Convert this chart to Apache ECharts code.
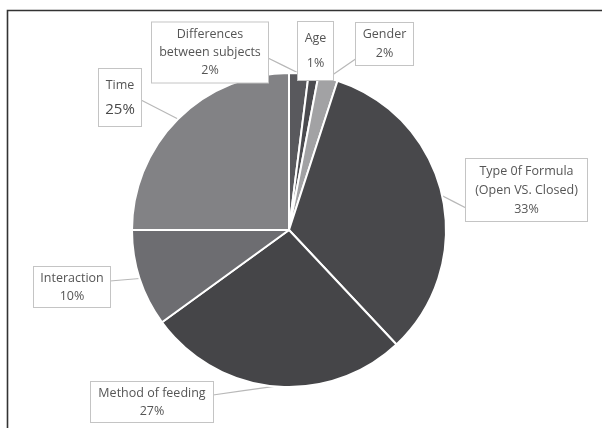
<!DOCTYPE html>
<html>
<head>
<meta charset="utf-8">
<script src="https://cdn.jsdelivr.net/npm/echarts@6/dist/echarts.min.js"></script>
<style>
  html, body { margin: 0; padding: 0; background: #fff; }
  #chart { width: 602px; height: 428px; }
</style>
</head>
<body>
<div id="chart"></div>
<script>
// Factors share (percent), clockwise from 12 o'clock
const categories = [
  'Differences\nbetween subjects',
  'Age',
  'Gender',
  'Type 0f Formula\n(Open VS. Closed)',
  'Method of feeding',
  'Interaction',
  'Time'
];
const values = [2, 1, 2, 33, 27, 10, 25];
const sliceColors = ['#59595d', '#4b4b4f', '#a2a2a4', '#48484b', '#454548', '#6d6d71', '#828285'];

// Callout boxes: centre (cx, cy), content width, vertical padding, line height, leader end
const callouts = [
  { cx: 210, cy: 52.5, w: 116, pad: [3, 0], lh: 18, end: [268, 58] },
  { cx: 315.5, cy: 51, w: 35, pad: [4, 0], lh: 25, end: null },
  { cx: 384.5, cy: 44, w: 57, pad: [2, 0], lh: 19, end: [357, 58] },
  { cx: 526.5, cy: 190, w: 121, pad: [2.5, 0], lh: 19, end: [466, 208] },
  { cx: 152, cy: 402, w: 122, pad: [2, 0], lh: 18, end: [213, 395] },
  { cx: 72, cy: 287, w: 76, pad: [2, 0], lh: 18, end: [110, 281] },
  { cx: 120, cy: 97.5, w: 42, pad: [3.5, 0], lh: 25, end: [141, 100] }
];

const textColor = '#555555';
const fontFamily = '"Open Sans", "Liberation Sans", sans-serif';
const fontSize = 12.5;

const pieData = categories.map((name, i) => ({
  name: name,
  value: values[i],
  itemStyle: { color: sliceColors[i] },
  label: {
    width: callouts[i].w,
    padding: callouts[i].pad,
    lineHeight: callouts[i].lh,
    formatter: i === 6 ? '{n|{b}}\n{p|{d}%}' : '{b}\n{d}%',
    rich: {
      n: { fontSize: fontSize, color: textColor, fontFamily: fontFamily, lineHeight: 25 },
      p: { fontSize: 15, color: '#4a4a4a', fontFamily: fontFamily, lineHeight: 25 }
    }
  }
}));

const chart = echarts.init(document.getElementById('chart'), null, { renderer: 'canvas' });

chart.setOption({
  animation: false,
  backgroundColor: '#fff',
  graphic: [{
    type: 'polyline',
    shape: { points: [[7.5, 428], [7.5, 10.5], [602, 10.5]] },
    style: { stroke: '#333', lineWidth: 1.6, fill: null }
  }],
  series: [{
    type: 'pie',
    center: [289, 230],
    radius: 157,
    startAngle: 90,
    clockwise: true,
    avoidLabelOverlap: false,
    data: pieData,
    itemStyle: { borderColor: '#ffffff', borderWidth: 2 },
    label: {
      show: true,
      position: 'outside',
      align: 'center',
      color: textColor,
      fontSize: fontSize,
      fontFamily: fontFamily,
      backgroundColor: '#ffffff',
      borderColor: '#c4c4c4',
      borderWidth: 1
    },
    labelLine: {
      show: true,
      length: 10,
      length2: 10,
      lineStyle: { color: '#b8b8b8', width: 1.2 }
    },
    labelLayout: function (params) {
      const c = callouts[params.dataIndex];
      const out = {
        x: c.cx,
        y: c.cy,
        align: 'center',
        verticalAlign: 'middle'
      };
      const pts = params.labelLinePoints;
      if (c.end && pts) {
        const a = pts[0];
        const mid = [(a[0] + c.end[0]) / 2, (a[1] + c.end[1]) / 2];
        out.labelLinePoints = [a, mid, c.end];
      } else if (pts) {
        const a = pts[0];
        out.labelLinePoints = [a, a, a];
      }
      return out;
    }
  }]
});
</script>
</body>
</html>
